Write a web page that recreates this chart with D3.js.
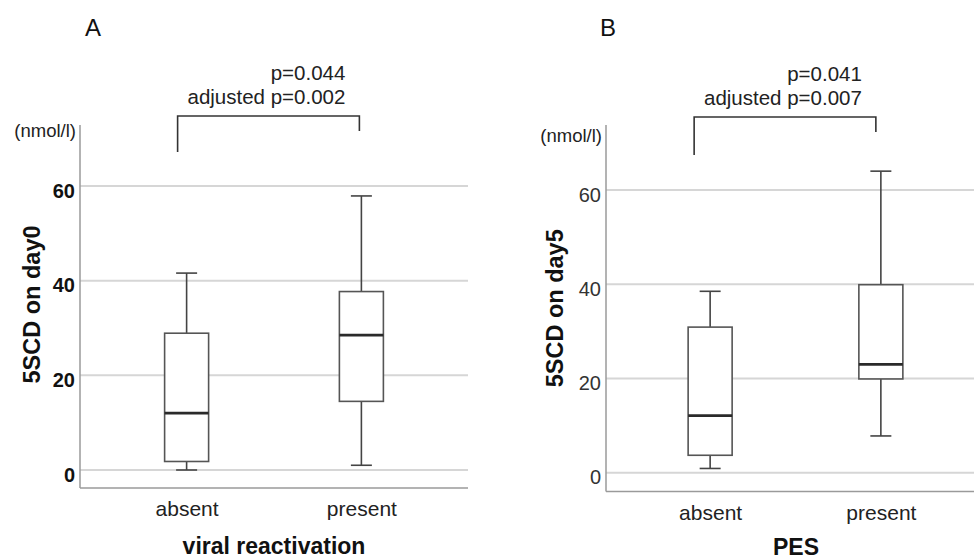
<!DOCTYPE html>
<html>
<head>
<meta charset="utf-8">
<script src="https://cdn.jsdelivr.net/npm/d3@7/dist/d3.min.js"></script>
<style>
  html, body { margin: 0; padding: 0; background: #fff; }
  svg { display: block; font-family: "Liberation Sans", Arial, Helvetica, sans-serif; }
</style>
</head>
<body>
<svg id="chart" width="974" height="560"></svg>
<script>
// ---------------- data ----------------
const categories = ["absent", "present"];
const yTicks = [0, 20, 40, 60];

// Panel A: 5SCD on day0 by viral reactivation
const boxesA = [
  { cat: "absent",  min: 0.0, q1: 1.8,  median: 12.0, q3: 28.9, max: 41.6 },
  { cat: "present", min: 1.0, q1: 14.5, median: 28.5, q3: 37.7, max: 57.9 }
];
// Panel B: 5SCD on day5 by PES
const boxesB = [
  { cat: "absent",  min: 0.9, q1: 3.7,  median: 12.1, q3: 30.9, max: 38.5 },
  { cat: "present", min: 7.8, q1: 19.9, median: 23.0, q3: 39.9, max: 64.0 }
];
const pTextA = ["p=0.044", "adjusted p=0.002"];
const pTextB = ["p=0.041", "adjusted p=0.007"];

// ---------------- drawing ----------------
const svg = d3.select("#chart");

function panel(cfg) {
  const g = svg.append("g");
  const x = d3.scalePoint().domain(categories).range([cfg.x0, cfg.x1]).padding(0.61);
  const y = d3.scaleLinear().domain([0, 60]).range([cfg.y0, cfg.y60]);
  const yTop = y(cfg.yExtent[1]), yBot = y(cfg.yExtent[0]);

  // gridlines
  g.selectAll(".grid").data(yTicks).join("line")
    .attr("x1", cfg.x0).attr("x2", cfg.x1)
    .attr("y1", d => y(d)).attr("y2", d => y(d))
    .attr("stroke", "#d6d6d6").attr("stroke-width", 2);

  // axes lines
  g.append("line").attr("x1", cfg.x0).attr("x2", cfg.x0).attr("y1", yTop).attr("y2", yBot)
    .attr("stroke", "#9a9a9a").attr("stroke-width", 1.5);
  g.append("line").attr("x1", cfg.x0).attr("x2", cfg.x1).attr("y1", yBot).attr("y2", yBot)
    .attr("stroke", "#9a9a9a").attr("stroke-width", 1.5);

  // y tick labels via d3 axis
  const yAxis = d3.axisLeft(y).tickValues(yTicks).tickSize(0).tickPadding(5);
  const ag = g.append("g").attr("transform", `translate(${cfg.x0},0)`).call(yAxis);
  ag.select(".domain").remove();
  ag.selectAll("text")
    .attr("font-family", "Liberation Sans, Arial, sans-serif")
    .attr("font-size", 20)
    .attr("font-weight", cfg.boldTicks ? "bold" : "normal")
    .attr("fill", cfg.boldTicks ? "#111" : "#333")
    .attr("dy", "0.55em");

  // x tick labels via d3 axis
  const xAxis = d3.axisBottom(x).tickSize(0).tickPadding(0);
  const xg = g.append("g").attr("transform", `translate(0,${yBot})`).call(xAxis);
  xg.select(".domain").remove();
  xg.selectAll("text")
    .attr("font-family", "Liberation Sans, Arial, sans-serif")
    .attr("font-size", 21).attr("fill", "#222")
    .attr("y", 28).attr("dy", 0);

  // boxes
  const bw = 44, cw = 21;
  const bx = g.selectAll(".box").data(cfg.boxes).join("g")
    .attr("transform", d => `translate(${x(d.cat)},0)`);
  bx.append("line").attr("x1", 0).attr("x2", 0).attr("y1", d => y(d.max)).attr("y2", d => y(d.q3))
    .attr("stroke", "#444").attr("stroke-width", 1.6);
  bx.append("line").attr("x1", 0).attr("x2", 0).attr("y1", d => y(d.q1)).attr("y2", d => y(d.min))
    .attr("stroke", "#444").attr("stroke-width", 1.6);
  bx.append("line").attr("x1", -cw / 2).attr("x2", cw / 2).attr("y1", d => y(d.max)).attr("y2", d => y(d.max))
    .attr("stroke", "#444").attr("stroke-width", 1.6);
  bx.append("line").attr("x1", -cw / 2).attr("x2", cw / 2).attr("y1", d => y(d.min)).attr("y2", d => y(d.min))
    .attr("stroke", "#444").attr("stroke-width", 1.6);
  bx.append("rect").attr("x", -bw / 2).attr("width", bw)
    .attr("y", d => y(d.q3)).attr("height", d => y(d.q1) - y(d.q3))
    .attr("fill", "#fff").attr("stroke", "#555").attr("stroke-width", 1.6);
  bx.append("line").attr("x1", -bw / 2).attr("x2", bw / 2).attr("y1", d => y(d.median)).attr("y2", d => y(d.median))
    .attr("stroke", "#2a2a2a").attr("stroke-width", 2.8);

  // significance bracket
  const bl = x(categories[0]) + cfg.brL, br = x(categories[1]) + cfg.brR;
  g.append("path")
    .attr("d", `M${bl},${cfg.brLeftBot} V${cfg.brTop} H${br} V${cfg.brRightBot}`)
    .attr("fill", "none").attr("stroke", "#333").attr("stroke-width", 1.6);

  // p-value text
  const tx = x(categories[1]) + cfg.pRight;
  g.selectAll(".ptxt").data(cfg.pText).join("text")
    .attr("x", tx).attr("y", (d, i) => cfg.pBase + i * 23.5)
    .attr("text-anchor", "end").attr("font-size", 20.5).attr("fill", "#222")
    .text(d => d);

  // units
  g.append("text").attr("x", cfg.x0 - 4).attr("y", cfg.unitY)
    .attr("text-anchor", "end").attr("font-size", 18.5).attr("fill", "#222").text("(nmol/l)");

  // y title
  g.append("text")
    .attr("transform", `translate(${cfg.yTitleX},${(y(cfg.yExtent[0]) + y(cfg.yExtent[1])) / 2 + cfg.yTitleShift}) rotate(-90)`)
    .attr("text-anchor", "middle").attr("font-size", 23.5).attr("font-weight", "bold").attr("fill", "#111")
    .text(cfg.yTitle);

  // x title
  g.append("text").attr("x", cfg.xTitleX).attr("y", cfg.xTitleY)
    .attr("text-anchor", "middle").attr("font-size", 23).attr("font-weight", "bold").attr("fill", "#111")
    .text(cfg.xTitle);

  // panel letter
  g.append("text").attr("x", cfg.letterX).attr("y", 36)
    .attr("font-size", 24).attr("fill", "#111").text(cfg.letter);
}

panel({
  boxes: boxesA, pText: pTextA, letter: "A", letterX: 85,
  x0: 80, x1: 468, y0: 470, y60: 186, yExtent: [-3.8, 72.9], boldTicks: true,
  brL: -9, brR: -2, brTop: 116, brLeftBot: 152, brRightBot: 131,
  pRight: -16, pBase: 80, unitY: 137,
  yTitle: "5SCD on day0", yTitleX: 39.5, yTitleShift: -2,
  xTitle: "viral reactivation", xTitleX: 274, xTitleY: 554
});

panel({
  boxes: boxesB, pText: pTextB, letter: "B", letterX: 600,
  x0: 606, x1: 985, y0: 472.7, y60: 190, yExtent: [-4, 73.8], boldTicks: false,
  brL: -16, brR: -5, brTop: 117, brLeftBot: 155, brRightBot: 132,
  pRight: -19, pBase: 81, unitY: 142,
  yTitle: "5SCD on day5", yTitleX: 563, yTitleShift: 0,
  xTitle: "PES", xTitleX: 796, xTitleY: 555
});
</script>
</body>
</html>
